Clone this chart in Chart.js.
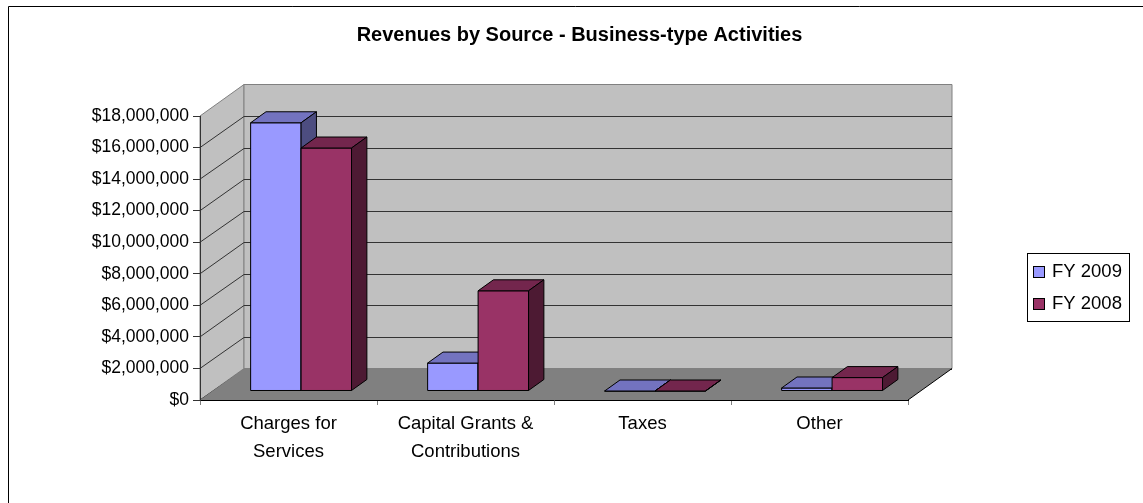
<!DOCTYPE html>
<html>
<head>
<meta charset="utf-8">
<script src="https://cdn.jsdelivr.net/npm/chart.js@4.4.1/dist/chart.umd.min.js"></script>
<style>
  html, body { margin: 0; padding: 0; background: #fff; }
  #wrap { width: 1143px; height: 503px; }
</style>
</head>
<body>
<div id="wrap"><canvas id="revenueChart" width="1143" height="503"></canvas></div>
<script>
const categories = [['Charges for', 'Services'], ['Capital Grants &', 'Contributions'], 'Taxes', 'Other'];
const seriesNames = ['FY 2009', 'FY 2008'];
const fy2009 = [17000000, 1770000, 0, 190000];
const fy2008 = [15400000, 6350000, 0, 850000];
const yMax = 18000000;
const yStep = 2000000;

// front / top / side shades for each series
const faceColors = [
  { front: '#9999ff', top: '#7373bf', side: '#4d4d80' },
  { front: '#993366', top: '#73264d', side: '#4d1a33' }
];

// depth of the box (px) and where the bars sit inside it
const depth = { x: 44, y: -31.5, near: 0.286, far: 0.635 };

const FONT = '"Liberation Sans", Arial, sans-serif';
Chart.defaults.font.family = FONT;
Chart.defaults.color = '#000';

function poly(ctx, pts, fill, stroke) {
  ctx.beginPath();
  ctx.moveTo(pts[0][0], pts[0][1]);
  for (let i = 1; i < pts.length; i++) ctx.lineTo(pts[i][0], pts[i][1]);
  ctx.closePath();
  if (fill) { ctx.fillStyle = fill; ctx.fill(); }
  if (stroke) { ctx.strokeStyle = stroke; ctx.lineWidth = 1; ctx.stroke(); }
}

const box3d = {
  id: 'box3d',
  beforeDraw(chart) {
    const { ctx, chartArea: a } = chart;
    const yScale = chart.scales.y;
    const dx = depth.x, dy = depth.y;
    ctx.save();

    // outer frame (top and left edges)
    ctx.strokeStyle = '#000';
    ctx.lineWidth = 1;
    ctx.beginPath();
    ctx.moveTo(8.5, chart.height);
    ctx.lineTo(8.5, 6.5);
    ctx.lineTo(chart.width, 6.5);
    ctx.stroke();

    // walls
    poly(ctx, [[a.left, a.bottom], [a.left, a.top], [a.left + dx, a.top + dy], [a.left + dx, a.bottom + dy]], '#c0c0c0', '#808080');
    poly(ctx, [[a.left + dx, a.top + dy], [a.right + dx, a.top + dy], [a.right + dx, a.bottom + dy], [a.left + dx, a.bottom + dy]], '#c0c0c0', '#808080');

    // gridlines on the side and back walls
    ctx.strokeStyle = '#333';
    ctx.lineWidth = 1;
    yScale.ticks.forEach(t => {
      const py = yScale.getPixelForValue(t.value);
      if (t.value === yMax) return;
      ctx.beginPath();
      ctx.moveTo(a.left, py);
      ctx.lineTo(a.left + dx, Math.round(py + dy) + 0.5);
      ctx.lineTo(a.right + dx, Math.round(py + dy) + 0.5);
      ctx.stroke();
    });

    // floor
    poly(ctx, [[a.left, a.bottom], [a.right, a.bottom], [a.right + dx, a.bottom + dy], [a.left + dx, a.bottom + dy]], '#808080', null);
    ctx.strokeStyle = '#000';
    ctx.beginPath();
    ctx.moveTo(a.right, a.bottom);
    ctx.lineTo(a.right + dx, a.bottom + dy);
    ctx.stroke();
    ctx.restore();
  },
  beforeDatasetsDraw(chart) {
    chart.ctx.save();
    chart.ctx.translate(depth.x * depth.near, depth.y * depth.near);
  },
  afterDatasetsDraw(chart) {
    const ctx = chart.ctx;
    const dx = depth.x * (depth.far - depth.near);
    const dy = depth.y * (depth.far - depth.near);
    for (let i = 0; i < categories.length; i++) {
      chart.data.datasets.forEach((ds, di) => {
        const bar = chart.getDatasetMeta(di).data[i];
        const c = faceColors[di];
        const l = bar.x - bar.width / 2, r = bar.x + bar.width / 2;
        const t = bar.y, b = bar.base;
        poly(ctx, [[l, b], [l, t], [r, t], [r, b]], c.front, '#000');
        poly(ctx, [[l, t], [r, t], [r + dx, t + dy], [l + dx, t + dy]], c.top, '#000');
        poly(ctx, [[r, t], [r + dx, t + dy], [r + dx, b + dy], [r, b]], c.side, '#000');
      });
    }
    ctx.restore();
  },
  afterDraw(chart) {
    const ctx = chart.ctx;
    ctx.save();
    ctx.strokeStyle = '#000';
    ctx.lineWidth = 1;
    ctx.strokeRect(1027.5, 253.5, 102, 68);
    ctx.font = '18.5px ' + FONT;
    ctx.textBaseline = 'middle';
    chart.data.datasets.forEach((ds, i) => {
      const cy = 272 + i * 32;
      ctx.fillStyle = faceColors[i].front;
      ctx.fillRect(1033.5, cy - 5.5, 11, 11);
      ctx.strokeRect(1033.5, cy - 5.5, 11, 11);
      ctx.fillStyle = '#000';
      ctx.fillText(ds.label, 1052, cy);
    });
    ctx.restore();
  }
};

new Chart(document.getElementById('revenueChart'), {
  type: 'bar',
  data: {
    labels: categories,
    datasets: [
      { label: seriesNames[0], data: fy2009, backgroundColor: faceColors[0].front, borderColor: '#000', borderWidth: 1, clip: false },
      { label: seriesNames[1], data: fy2008, backgroundColor: faceColors[1].front, borderColor: '#000', borderWidth: 1, clip: false }
    ]
  },
  options: {
    responsive: false,
    devicePixelRatio: 1,
    animation: false,
    layout: { padding: { left: 40, right: 24, top: 0, bottom: 0 } },
    datasets: { bar: { categoryPercentage: 0.57, barPercentage: 1.0 } },
    plugins: {
      legend: { display: false },
      tooltip: { enabled: false },
      title: {
        display: true,
        text: 'Revenues by Source - Business-type Activities',
        color: '#000',
        font: { size: 20, weight: 'bold' },
        padding: { top: 23.7, bottom: 68.3 }
      }
    },
    scales: {
      x: {
        offset: true,
        grid: { offset: true, drawOnChartArea: false, tickLength: 5, color: '#808080' },
        border: { color: '#000' },
        ticks: { color: '#000', font: { size: 18.5, lineHeight: 1.5 }, padding: 5.5, maxRotation: 0, autoSkip: false },
        afterFit(s) { s.height = 103; }
      },
      y: {
        min: 0,
        max: yMax,
        grid: { drawOnChartArea: false, tickLength: 7, color: '#333' },
        border: { color: '#333' },
        ticks: {
          stepSize: yStep,
          color: '#000',
          font: { size: 17.5 },
          padding: 4,
          callback: v => '$' + v.toLocaleString('en-US')
        },
        afterFit(s) { s.width = 160; }
      },
      y2: {
        position: 'right',
        grid: { display: false },
        border: { display: false },
        ticks: { display: false },
        afterFit(s) { s.width = 211; }
      }
    }
  },
  plugins: [box3d]
});
</script>
</body>
</html>
